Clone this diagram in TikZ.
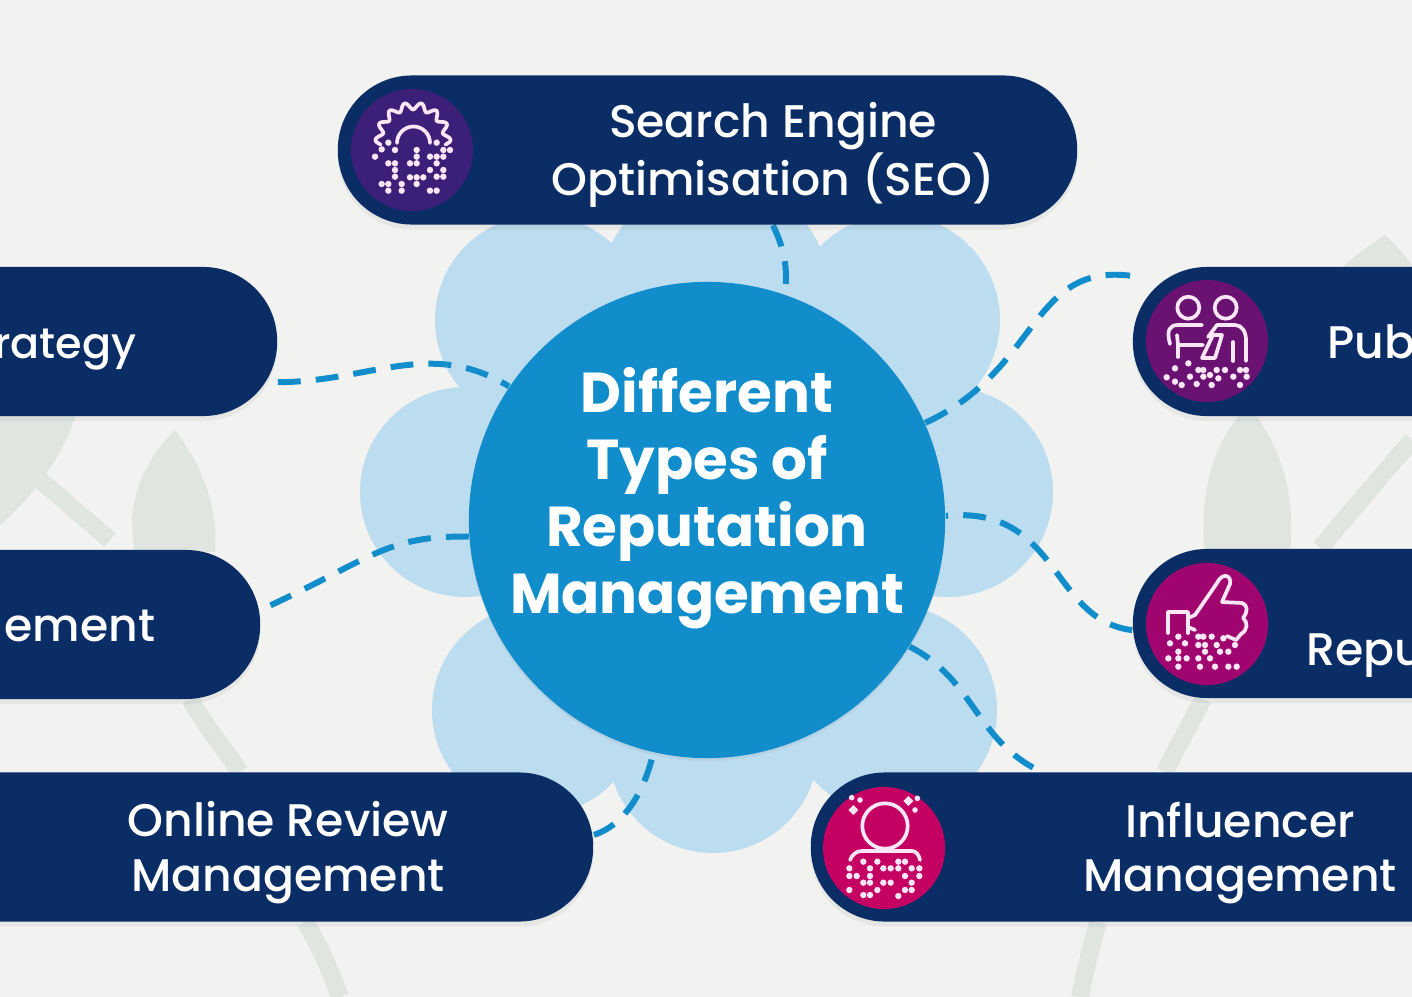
\documentclass[tikz,border=0pt]{standalone}
\usepackage{fontspec}
\setmainfont{Poppins}
\newfontfamily\pillfont{Poppins Medium}
\usetikzlibrary{shadows}
\pgfdeclarelayer{back}
\pgfdeclarelayer{links}
\pgfsetlayers{back,links,main}
\tikzset{
	pill/.style={fill=navy,rounded corners=0.74cm,inner sep=0pt,minimum height=1.49cm,
		drop shadow={shadow xshift=0cm,shadow yshift=-0.05cm,opacity=0.1}},
	pilltext/.style={text=white,align=center,inner sep=0pt,font=\pillfont\fontsize{13}{15.6}\selectfont},
	badge/.style={circle,inner sep=0pt,minimum size=1.22cm},
	hubnode/.style={circle,fill=hubblue,inner sep=0pt,minimum size=4.76cm,
		drop shadow={shadow xshift=0cm,shadow yshift=-0.03cm,opacity=0.1}},
	hubtext/.style={text=white,align=center,inner sep=0pt,font=\fontsize{16}{19}\selectfont\bfseries},
	link/.style={hubblue,line width=1.7pt,dash pattern=on 6.5pt off 4.3pt},
	iconline/.style={draw=iconpink,line width=1.05pt,line cap=round,line join=round},
	icondot/.style={fill=iconpink},
	petal/.style={fill=petalblue},
	leaf/.style={fill=leafgrey},
	stem/.style={draw=leafgrey,line width=5pt}
}
\begin{document}
\begin{tikzpicture}[x=0.01cm,y=-0.01cm]

	\definecolor{navy}{HTML}{0B2D66}
	\definecolor{hubblue}{HTML}{118DCB}
	\definecolor{petalblue}{HTML}{BCDCF0}
	\definecolor{leafgrey}{HTML}{E0E5E0}
	\definecolor{paper}{HTML}{F2F2F0}
	\definecolor{iconpink}{HTML}{FBE6F6}
	\definecolor{seopurple}{HTML}{3B1F78}
	\definecolor{pubpurple}{HTML}{6A1272}
	\definecolor{repupink}{HTML}{A0056F}
	\definecolor{inflpink}{HTML}{C40062}

	\useasboundingbox (0,0) rectangle (1412,997);

	\begin{pgfonlayer}{back}
		\fill[paper] (0,0) rectangle (1412,997);
		% Blaetter
		\fill[leaf] (175,430) .. controls (125,480) and (130,530) .. (135,552) -- (215,552) .. controls (218,510) and (205,470) .. (175,430);
		\fill[leaf] (1248,405) .. controls (1205,450) and (1200,510) .. (1205,552) -- (1290,552) .. controls (1295,500) and (1285,450) .. (1248,405);
		\fill[leaf] (1340,270) .. controls (1355,255) and (1370,245) .. (1385,235) .. controls (1395,245) and (1405,255) .. (1412,265) -- (1412,270);
		\fill[leaf] (0,416) -- (75,416) .. controls (65,450) and (40,490) .. (0,525);
		\draw[stem] (1412,440) -- (1320,548);
		\draw[stem] (40,480) -- (110,540);
		\draw[stem] (190,699) .. controls (205,725) and (225,750) .. (240,772);
		\draw[stem] (305,922) .. controls (320,945) and (330,970) .. (340,997);
		\draw[stem] (1203,699) .. controls (1190,725) and (1175,750) .. (1165,772);
		\draw[stem] (1098,922) .. controls (1092,945) and (1085,970) .. (1080,997);
		% Blumenblaetter
		\foreach \x/\y/\r in {540/320/105,715/294/115,895/320/105,465/492/105,948/492/105,537/710/105,892/710/105,713/748/105}
			\fill[petal] (\x,\y) circle (\r);
	\end{pgfonlayer}

	% Knoten
	\node[hubnode] (hub) at (707,520) {};
	\node[hubtext] (hubtitle) at (707,498) {Different\\Types of\\Reputation\\Management};
	\node[pill,minimum width=7.39cm] (seo) at (707.5,150) {};
	\node[pill,minimum width=5.77cm] (strategy) at (-11.5,341.5) {};
	\node[pill,minimum width=5.6cm] (mgmt) at (-20,624.5) {};
	\node[pill,minimum width=6.93cm] (review) at (246.5,847) {};
	\node[pill,minimum width=7.01cm] (influencer) at (1161.5,847) {};
	\node[pill,minimum width=3.79cm] (pub) at (1322.5,341.5) {};
	\node[pill,minimum width=3.79cm] (repu) at (1322.5,623.5) {};

	\node[pilltext] (seotext) at (773,155) {Search Engine\\Optimisation (SEO)};
	\node[pilltext,font=\pillfont\fontsize{12.2}{15}\selectfont,anchor=base east] (strategytext) at (137,358) {rategy};
	\node[pilltext,anchor=base east] (mgmttext) at (156,641) {ement};
	\node[pilltext] (reviewtext) at (288,853) {Online Review\\Management};
	\node[pilltext] (influencertext) at (1240,853) {Influencer\\Management};
	\node[pilltext,anchor=base west] (pubtext) at (1327,358) {Pub};
	\node[pilltext,anchor=base west] (repl) at (1306,665) {Repu};

	\node[badge,fill=seopurple] (seoicon) at (412,150) {};
	\node[badge,fill=pubpurple] (pubicon) at (1207,341) {};
	\node[badge,fill=repupink] (repuicon) at (1207,624) {};
	\node[badge,fill=inflpink] (inflicon) at (884,848) {};

	% Verbindungen
	\begin{pgfonlayer}{links}
		\draw[link] (seo.-49.6) .. controls (785,250) and (788,270) .. (hub.71.6);
		\draw[link] (strategy.-8) .. controls (370,382) and (430,338) .. (hub.146);
		\draw[link] (hub.184.8) .. controls (385,535) and (370,560) .. (mgmt.3);
		\draw[link] (review.2.5) .. controls (625,825) and (645,790) .. (hub.257);
		\draw[link] (hub.-32) .. controls (975,680) and (975,740) .. (influencer.148.3);
		\draw[link] (repu.182.9) .. controls (1050,620) and (1060,505) .. (hub.1);
		\draw[link,dash pattern=on 7pt off 4.3pt] (hub.24) .. controls (1040,370) and (1030,262) .. (pub.161.5);
	\end{pgfonlayer}

	% Symbol SEO
	\draw[iconline] plot[smooth,domain=-8:188,samples=150] ({413+(34+3.5*cos(14*\x))*cos(\x)},{140-(34+3.5*cos(14*\x))*sin(\x)});
	\draw[iconline] (397,143) arc[start angle=180,end angle=360,radius=16.5];
	\foreach \x/\y in {145/218,125/238,165/240,105/260,290/218,330/240,310/240,230/240,230/260,290/260,270/260,310/260,290/280,230/280,210/280,145/280,165/280,165/300,165/320,270/300,310/300,290/320,310/320,210/322,230/322,250/322,125/342,145/342,145/362,185/342,185/362,230/342,270/362,290/362}
		\fill[icondot] ({340+\x/3},{70+\y/3}) circle (3.2);

	% Symbol Pub
	\draw[iconline] (1188.3,307.7) circle (11);
	\draw[iconline] (1225.7,307.7) circle (11);
	\draw[iconline] (1170,344) .. controls (1166,330) and (1170,325) .. (1178,325) -- (1202,325);
	\draw[iconline] (1177,335) -- (1178,345) -- (1203,345);
	\draw[iconline] (1178,345) -- (1178,357);
	\draw[iconline] (1208,337) -- (1217,325) -- (1235,325) .. controls (1242,325) and (1246,332) .. (1246,340) -- (1246,361);
	\draw[iconline] (1233,342) -- (1233,361);
	\draw[iconline] (1213,335) -- (1222,335) -- (1215,358) -- (1202,358) -- cycle;
	\foreach \x/\y in {165/325,205/310,140/352,165/365,185/375,210/350,230/372,235/330,250/330,270/345,275/375,290/330,315/330,295/355,340/350,360/375,378/330,380/350,360/330,250/350}
		\fill[icondot] ({1120+\x/3},{260+\y/3}) circle (3.2);

	% Symbol Repu
	\draw[iconline] (1168,633) -- (1168,612) -- (1188,612) -- (1188,633);
	\draw[iconline] (1188,618) -- (1195,615) -- (1217,583) .. controls (1222,572) and (1232,575) .. (1230,584) -- (1222,602) -- (1242,603) .. controls (1248,605) and (1248,612) .. (1243,618) .. controls (1248,622) and (1248,630) .. (1241,634) -- (1236,640) -- (1227,636);
	\draw[iconline] (1188,627) -- (1195,630);
	\foreach \x/\y in {150/1150,175/1130,195/1150,145/1195,175/1175,175/1195,200/1195,175/1220,235/1130,250/1130,275/1130,235/1155,255/1155,290/1155,310/1135,345/1155,255/1175,300/1175,325/1175,235/1195,270/1195,240/1220,285/1220,325/1220,350/1220}
		\fill[icondot] ({1120+\x/3},{260+\y/3}) circle (3.2);

	% Symbol Influencer
	\draw[iconline] (885,826) circle (22.7);
	\draw[iconline] (850,860) .. controls (852,855) and (856,851) .. (862,851) -- (912,851) .. controls (916,851) and (919,855) .. (920,860);
	\foreach \x/\y in {155/113,180/120,352/115,345/150}
		\fill[icondot] ({800+\x/3},{760+\y/3}) circle (2.8);
	\foreach \x/\y in {160/150,325/123}
		\fill[icondot] ({800+\x/3},{760+\y/3}) +(-5,0) -- +(0,-5) -- +(5,0) -- +(0,5) -- cycle;
	\foreach \x/\y in {190/305,232/305,295/305,315/305,148/325,210/325,250/325,272/325,295/325,335/325,358/325,148/348,170/348,210/348,315/348,358/348,190/368,210/368,250/368,272/368,335/368,148/390,232/390,315/390,335/390,190/405,210/405,295/408}
		\fill[icondot] ({800+\x/3},{760+\y/3}) circle (3.2);

\end{tikzpicture}
\end{document}
